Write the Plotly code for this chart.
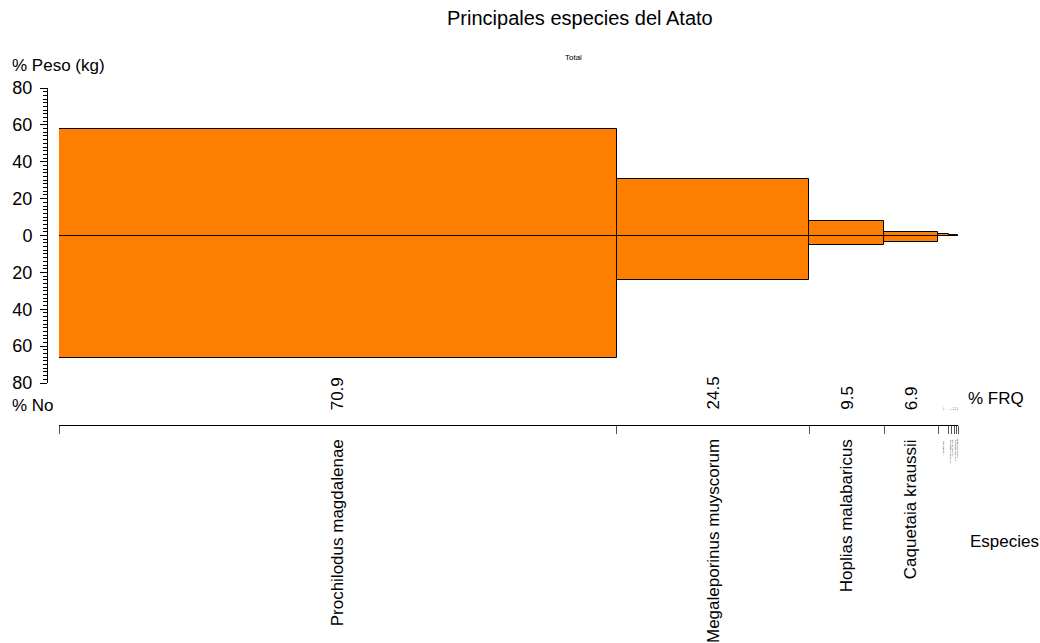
import numpy as np
import plotly.graph_objects as go

species = ["Prochilodus magdalenae", "Megaleporinus muyscorum", "Hoplias malabaricus",
           "Caquetaia kraussii", "Pimelodus blochii", "Cyphocharax magdalenae",
           "Astyanax fasciatus", "Triportheus magdalenae", "Sorubim cuspicaudus"]
frq = [70.9, 24.5, 9.5, 6.9, 1.3, 0.4, 0.3, 0.3, 0.2]
peso = [57.6, 30.5, 8.1, 2.1, 0.8, 0.4, 0.2, 0.2, 0.1]
numero = [66.2, 24.4, 5.4, 3.6, 0.2, 0.1, 0.05, 0.03, 0.02]
ytick_vals = [-80, -60, -40, -20, 0, 20, 40, 60, 80]
ytick_text = ["80", "60", "40", "20", "0", "20", "40", "60", "80"]

FONT = "Liberation Sans, Arial, sans-serif"
ORANGE = "#FF7F00"

frq_arr = np.array(frq)
edges = np.concatenate([[0], np.cumsum(frq_arr)])
centers = (edges[:-1] + edges[1:]) / 2
total = edges[-1]

W, H = 1040, 643
L, R, T, B = 47, 958, 88, 425   # paper area in pixels
def px(p):
    return (p - L) / (R - L)
def py(q):
    return (B - q) / (B - T)

fig = go.Figure()
fig.add_trace(go.Bar(x=centers, y=peso, width=frq_arr, base=0,
                     marker=dict(color=ORANGE, line=dict(color="black", width=1)),
                     showlegend=False, hoverinfo="skip"))
fig.add_trace(go.Bar(x=centers, y=[-v for v in numero], width=frq_arr, base=0,
                     marker=dict(color=ORANGE, line=dict(color="black", width=1)),
                     showlegend=False, hoverinfo="skip"))

ann = []
for c, f, s in zip(centers, frq, species):
    big = f >= 5
    ann.append(dict(x=c, xref="x", y=py(412), yref="paper", text=f"{f:.1f}",
                    textangle=-90, showarrow=False, xanchor="center", yanchor="bottom",
                    font=dict(family=FONT, size=17 if big else 2, color="black")))
    ann.append(dict(x=c, xref="x", y=py(437), yref="paper", text=s,
                    textangle=-90, showarrow=False, xanchor="center", yanchor="top",
                    font=dict(family=FONT, size=17 if big else 2, color="black")))

texts = [
    ("Principales especies del Atato", 580, 18, "center", 20),
    ("Total", 573, 57, "center", 8),
    ("% Peso (kg)", 10, 66, "left", 17),
    ("% No", 10, 405, "left", 17),
    ("% FRQ", 966, 398, "left", 17),
    ("Especies", 968, 541, "left", 17),
]
for t, x, y, xa, sz in texts:
    ann.append(dict(x=px(x), y=py(y), xref="paper", yref="paper", text=t, showarrow=False,
                    xanchor=xa, yanchor="middle", font=dict(family=FONT, size=sz, color="black")))

fig.update_layout(
    width=W, height=H,
    margin=dict(l=L, r=W - R, t=T, b=H - B, pad=0),
    paper_bgcolor="white", plot_bgcolor="white",
    barmode="overlay", bargap=0,
    font=dict(family=FONT, size=17, color="black"),
    annotations=ann,
    xaxis=dict(domain=[px(59), 1], range=[0, total], anchor="free", position=0,
               showgrid=False, zeroline=False, showline=True, linecolor="black", linewidth=1,
               tickvals=list(edges), ticks="outside", ticklen=8, tickcolor="#555",
               showticklabels=False),
    yaxis=dict(domain=[py(383), 1], range=[-80, 80], anchor="free", position=0,
               showgrid=False, zeroline=False, showline=True, linecolor="black", linewidth=1,
               tickvals=ytick_vals, ticktext=ytick_text, ticks="outside", ticklen=7,
               tickcolor="black", tickfont=dict(family=FONT, size=18), ticklabelstandoff=4,
               minor=dict(dtick=2, tick0=0, ticks="outside", ticklen=4, tickcolor="black")),
)

fig.write_html("out.html")
